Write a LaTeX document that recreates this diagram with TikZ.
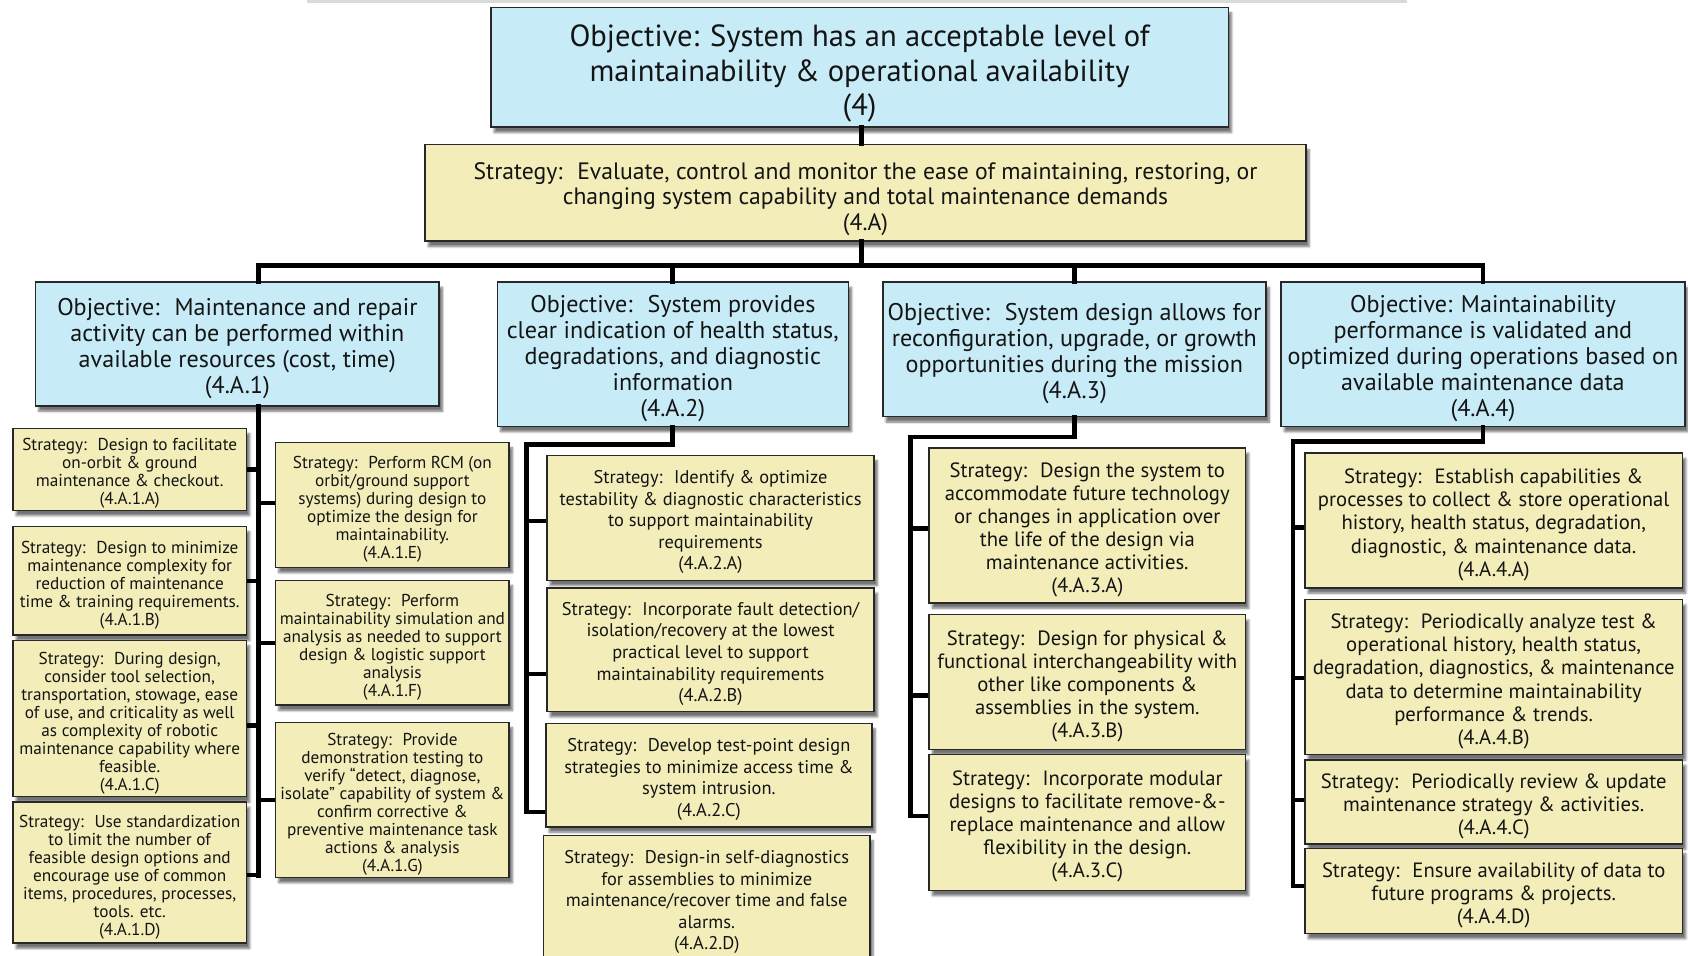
\documentclass[tikz,border=0pt]{standalone}
\usepackage{fontspec}
\setmainfont{PT Sans}
\usetikzlibrary{shadows.blur}

\definecolor{objfill}{RGB}{199,236,248}
\definecolor{strfill}{RGB}{243,238,185}
\definecolor{edge}{RGB}{40,40,40}
\definecolor{topbar}{RGB}{218,218,218}

\tikzset{
  box/.style={draw=edge, line width=1.4pt, inner sep=0pt,
    blur shadow={shadow xshift=3pt, shadow yshift=-5pt, shadow blur steps=6, shadow opacity=55}},
  objbox/.style={box, fill=objfill},
  strbox/.style={box, fill=strfill},
  txt/.style={align=center, inner sep=0pt, text=black!92},
  fTop/.style={font=\fontsize{28.4}{32}\selectfont, yshift=-2pt},
  fMid/.style={font=\fontsize{22}{24}\selectfont, yshift=-2pt},
  fObj/.style={font=\fontsize{22.4}{24.2}\selectfont},
  fOne/.style={font=\fontsize{16}{16.7}\selectfont},
  fTwo/.style={font=\fontsize{17.1}{20.1}\selectfont},
  fThree/.style={font=\fontsize{19.2}{21.4}\selectfont},
  fFour/.style={font=\fontsize{19.2}{21.5}\selectfont},
  conn/.style={line width=4.5pt, black, line cap=rect},
  branch/.style={line width=4pt, black}
}

% box from corner (x1,y1) to corner (x2,y2), y measured downwards,
% with its centred text set a little below the middle
\newcommand\bx[8]{%
  \node[#6, minimum width={#4-#2}, minimum height={#5-#3}] (#1)
    at ({(#2+#4)/2},{(#3+#5)/2}) {};
  \node[txt, #7] (#1-t) at ([yshift=-4pt]#1.center) {#8};}

\begin{document}
\begin{tikzpicture}[x=1pt, y=-1pt]
\useasboundingbox (0,0) rectangle (1568,888);
\clip (0,0) rectangle (1568,888);

\fill[topbar] (285,0) rectangle (1307,2.5);

% ---- upper levels
\bx{top}{456}{7}{1141}{118}{objbox}{fTop}{Objective: System has an acceptable level of\\maintainability \& operational availability\\(4)}
\bx{s4A}{395}{134}{1213}{224}{strbox}{fMid}{Strategy:~ Evaluate, control and monitor the ease of maintaining, restoring, or\\changing system capability and total maintenance demands\\(4.A)}

\bx{o1}{33}{262}{408}{377}{objbox}{fObj}{Objective:~ Maintenance and repair\\activity can be performed within\\available resources (cost, time)\\(4.A.1)}
\bx{o2}{462}{262}{788}{396}{objbox}{fObj}{Objective:~ System provides\\clear indication of health status,\\degradations, and diagnostic\\information\\(4.A.2)}
\bx{o3}{820}{262}{1176}{387}{objbox}{fObj}{Objective:~ System design allows for\\reconfiguration, upgrade, or growth\\opportunities during the mission\\(4.A.3)}
\bx{o4}{1190}{262}{1565}{396}{objbox}{fObj}{Objective: Maintainability\\performance is validated and\\optimized during operations based on\\available maintenance data\\(4.A.4)}

% ---- strategies under 4.A.1
\bx{s1A}{12}{398}{229}{474}{strbox}{fOne}{Strategy:~ Design to facilitate\\on-orbit \& ground\\maintenance \& checkout.\\(4.A.1.A)}
\bx{s1B}{12}{489}{229}{590}{strbox}{fOne}{Strategy:~ Design to minimize\\maintenance complexity for\\reduction of maintenance\\time \& training requirements.\\(4.A.1.B)}
\bx{s1C}{12}{595}{229}{740}{strbox}{fOne}{Strategy:~ During design,\\consider tool selection,\\transportation, stowage, ease\\of use, and criticality as well\\as complexity of robotic\\maintenance capability where\\feasible.\\(4.A.1.C)}
\bx{s1D}{12}{745}{229}{876}{strbox}{fOne}{Strategy:~ Use standardization\\to limit the number of\\feasible design options and\\encourage use of common\\items, procedures, processes,\\tools. etc.\\(4.A.1.D)}
\bx{s1E}{256}{411}{473}{527}{strbox}{fOne}{Strategy:~ Perform RCM (on\\orbit/ground support\\systems) during design to\\optimize the design for\\maintainability.\\(4.A.1.E)}
\bx{s1F}{256}{539}{473}{655}{strbox}{fOne}{Strategy:~ Perform\\maintainability simulation and\\analysis as needed to support\\design \& logistic support\\analysis\\(4.A.1.F)}
\bx{s1G}{256}{671}{473}{815}{strbox}{fOne}{Strategy:~ Provide\\demonstration testing to\\verify “detect, diagnose,\\isolate” capability of system \&\\confirm corrective \&\\preventive maintenance task\\actions \& analysis\\(4.A.1.G)}

% ---- strategies under 4.A.2
\bx{s2A}{508}{423}{812}{539}{strbox}{fTwo}{Strategy:~ Identify \& optimize\\testability \& diagnostic characteristics\\to support maintainability\\requirements\\(4.A.2.A)}
\bx{s2B}{508}{546}{812}{661}{strbox}{fTwo}{Strategy:~ Incorporate fault detection/\\isolation/recovery at the lowest\\practical level to support\\maintainability requirements\\(4.A.2.B)}
\bx{s2C}{507}{672}{810}{768}{strbox}{fTwo}{Strategy:~ Develop test-point design\\strategies to minimize access time \&\\system intrusion.\\(4.A.2.C)}
\bx{s2D}{505}{776}{808}{892}{strbox}{fTwo}{Strategy:~ Design-in self-diagnostics\\for assemblies to minimize\\maintenance/recover time and false\\alarms.\\(4.A.2.D)}

% ---- strategies under 4.A.3
\bx{s3A}{863}{416}{1157}{560}{strbox}{fThree}{Strategy:~ Design the system to\\accommodate future technology\\or changes in application over\\the life of the design via\\maintenance activities.\\(4.A.3.A)}
\bx{s3B}{863}{571}{1157}{696}{strbox}{fThree}{Strategy:~ Design for physical \&\\functional interchangeability with\\other like components \&\\assemblies in the system.\\(4.A.3.B)}
\bx{s3C}{863}{701}{1157}{827}{strbox}{fThree}{Strategy:~ Incorporate modular\\designs to facilitate remove-\&-\\replace maintenance and allow\\flexibility in the design.\\(4.A.3.C)}

% ---- strategies under 4.A.4
\bx{s4a}{1212}{421}{1563}{546}{strbox}{fFour}{Strategy:~ Establish capabilities \&\\processes to collect \& store operational\\history, health status, degradation,\\diagnostic, \& maintenance data.\\(4.A.4.A)}
\bx{s4b}{1212}{557}{1563}{701}{strbox}{fFour}{Strategy:~ Periodically analyze test \&\\operational history, health status,\\degradation, diagnostics, \& maintenance\\data to determine maintainability\\performance \& trends.\\(4.A.4.B)}
\bx{s4c}{1212}{706}{1563}{784}{strbox}{fFour}{Strategy:~ Periodically review \& update\\maintenance strategy \& activities.\\(4.A.4.C)}
\bx{s4d}{1212}{788}{1563}{867}{strbox}{fFour}{Strategy:~ Ensure availability of data to\\future programs \& projects.\\(4.A.4.D)}

% ---- trunk positions
\coordinate (bus) at (0,247);
\coordinate (t1) at (240,0);
\coordinate (t2) at (489,413);
\coordinate (t3) at (846,406);
\coordinate (t4) at (1201,410);

% ---- connectors between the upper levels
\draw[conn] (top.south -| 800,0) -- (s4A.north -| 800,0);
\draw[conn] (s4A.south -| 800,0) -- (bus -| 800,0);
\draw[conn] (o1.north -| t1) -- (t1 |- bus) -- (bus -| o4.north) -- (o4.north);
\draw[conn] (bus -| o2.north) -- (o2.north);
\draw[conn] (bus -| o3.north) -- (o3.north);

% ---- column 1
\draw[conn] (o1.south -| t1) -- (t1 |- 0,813);
\foreach \b/\y in {s1A/436, s1B/540, s1C/674, s1D/813}
  \draw[branch] (t1 |- 0,\y) -- (\b.east |- 0,\y);
\foreach \b/\y in {s1E/467, s1F/597, s1G/743}
  \draw[branch] (t1 |- 0,\y) -- (\b.west |- 0,\y);

% ---- column 2
\draw[conn] (o2.south) -- (o2.south |- t2) -- (t2) -- (t2 |- 0,754);
\foreach \b/\y in {s2A/484, s2B/626, s2C/754}
  \draw[branch] (t2 |- 0,\y) -- (\b.west |- 0,\y);

% ---- column 3
\draw[conn] (o3.south) -- (o3.south |- t3) -- (t3) -- (t3 |- 0,758);
\foreach \b/\y in {s3A/491, s3B/646, s3C/758}
  \draw[branch] (t3 |- 0,\y) -- (\b.west |- 0,\y);

% ---- column 4
\draw[conn] (o4.south) -- (o4.south |- t4) -- (t4) -- (t4 |- 0,823);
\foreach \b/\y in {s4a/490, s4b/630, s4c/743, s4d/823}
  \draw[branch] (t4 |- 0,\y) -- (\b.west |- 0,\y);
\end{tikzpicture}
\end{document}
